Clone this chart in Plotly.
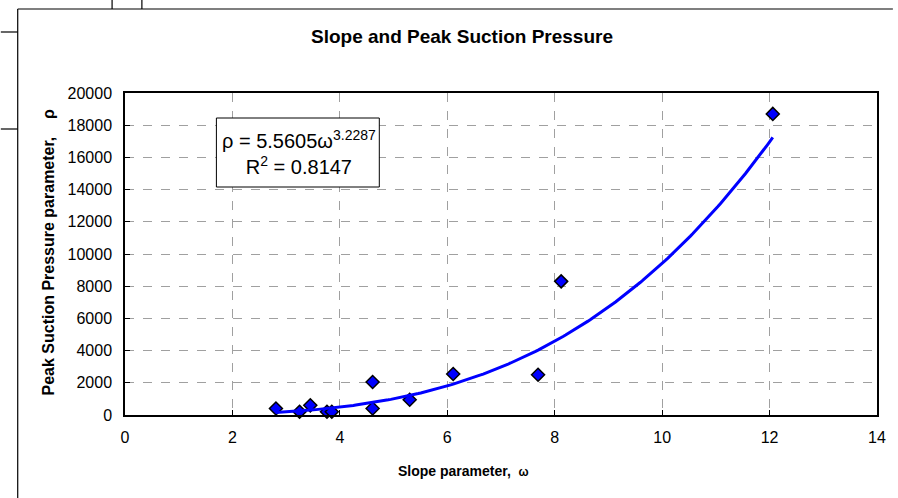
import numpy as np
import plotly.graph_objects as go

# Measured data: slope parameter (omega) vs peak suction pressure parameter (rho)
slope_omega = [2.81, 3.25, 3.45, 3.76, 3.85, 4.61, 4.61, 5.30, 6.11, 7.69, 8.12, 12.06]
peak_rho = [400, 200, 600, 200, 200, 2050, 400, 950, 2550, 2500, 8300, 18700]

# Power trendline coefficients (rho = a * omega^b)
fit_a = 5.5605
fit_b = 3.2287
fit_r2 = 0.8147

x_ticks = [0, 2, 4, 6, 8, 10, 12, 14]
y_ticks = [0, 2000, 4000, 6000, 8000, 10000, 12000, 14000, 16000, 18000, 20000]

FONT = "Liberation Sans, Arial, sans-serif"
W, H = 898, 498
L, R, T, B = 125, 882, 93, 415


def px_to_paper(px, py):
    return (px - L) / (R - L), (B - py) / (B - T)


trend_x = np.linspace(min(slope_omega), max(slope_omega), 200)
trend_y = fit_a * trend_x ** fit_b

fig = go.Figure()
fig.add_trace(go.Scatter(
    x=slope_omega, y=peak_rho, mode="markers",
    marker=dict(symbol="diamond", size=10, color="#0000FF",
                line=dict(color="black", width=1.5)),
    showlegend=False, cliponaxis=False,
))
fig.add_trace(go.Scatter(
    x=trend_x, y=trend_y, mode="lines",
    line=dict(color="#0000FF", width=3),
    showlegend=False,
))

# Chart/frame border lines
shapes = []
frame_segments = [
    ((17, 9), (17, 498)),
    ((17, 9), (898, 9)),
    ((0, 32), (17, 32)),
    ((0, 129), (17, 129)),
    ((112, 0), (112, 9)),
    ((142, 0), (142, 9)),
]
for (x0, y0), (x1, y1) in frame_segments:
    a0, b0 = px_to_paper(x0, y0)
    a1, b1 = px_to_paper(x1, y1)
    shapes.append(dict(type="line", xref="paper", yref="paper",
                       x0=a0, y0=b0, x1=a1, y1=b1,
                       line=dict(color="black", width=1.2)))

# Equation box
bx0, by0 = px_to_paper(217, 118)
bx1, by1 = px_to_paper(381, 187)
shapes.append(dict(type="rect", xref="paper", yref="paper",
                   x0=bx0, y0=by0, x1=bx1, y1=by1,
                   line=dict(color="black", width=1), fillcolor="white", layer="above"))

fig.update_layout(
    width=W, height=H,
    margin=dict(l=L, r=W - R, t=T, b=H - B),
    paper_bgcolor="white", plot_bgcolor="white",
    font=dict(family=FONT, color="black"),
    shapes=shapes,
    title=dict(text="<b>Slope and Peak Suction Pressure</b>",
               x=462 / W, xref="container", xanchor="center",
               y=1 - 36 / H, yref="container", yanchor="middle",
               font=dict(size=19, family=FONT, color="black")),
)

fig.update_xaxes(
    range=[0, 14], tickvals=x_ticks, ticktext=[str(v) for v in x_ticks],
    showgrid=True, gridcolor="#A0A0A0", griddash="dash", gridwidth=1,
    showline=True, linecolor="black", linewidth=1.5, mirror=True,
    ticks="inside", ticklen=5, tickcolor="black",
    tickfont=dict(size=16, family=FONT), ticklabelstandoff=7,
    zeroline=False,
)
fig.update_yaxes(
    range=[0, 20000], tickvals=y_ticks, ticktext=[str(v) for v in y_ticks],
    showgrid=True, gridcolor="#A0A0A0", griddash="dash", gridwidth=1,
    showline=True, linecolor="black", linewidth=1.5, mirror=True,
    ticks="inside", ticklen=5, tickcolor="black",
    tickfont=dict(size=16, family=FONT), ticklabelstandoff=8,
    zeroline=False,
)

# Axis titles
xt_x, xt_y = px_to_paper(466, 471)
fig.add_annotation(
    xref="paper", yref="paper", x=xt_x, y=xt_y, xanchor="center", yanchor="middle",
    text="<b>Slope parameter,  <span style='font-size:12px'>ω</span></b>",
    showarrow=False, font=dict(size=14, family=FONT, color="black"),
)
yt_x, yt_y = px_to_paper(47, 252)
fig.add_annotation(
    xref="paper", yref="paper", x=yt_x, y=yt_y, xanchor="center", yanchor="middle",
    text="<b>Peak Suction Pressure parameter,    ρ</b>", textangle=-90,
    showarrow=False, font=dict(size=16, family=FONT, color="black"),
)

# Trendline equation annotation
cx, cy = px_to_paper(300, 152)
fig.add_annotation(
    xref="paper", yref="paper", x=cx, y=cy, xanchor="center", yanchor="middle",
    text=f"ρ = {fit_a}ω<sup>{fit_b}</sup><br>R<sup>2</sup> = {fit_r2}",
    showarrow=False, align="center",
    font=dict(size=20, family=FONT, color="black"),
)

fig.write_html("out.html")
